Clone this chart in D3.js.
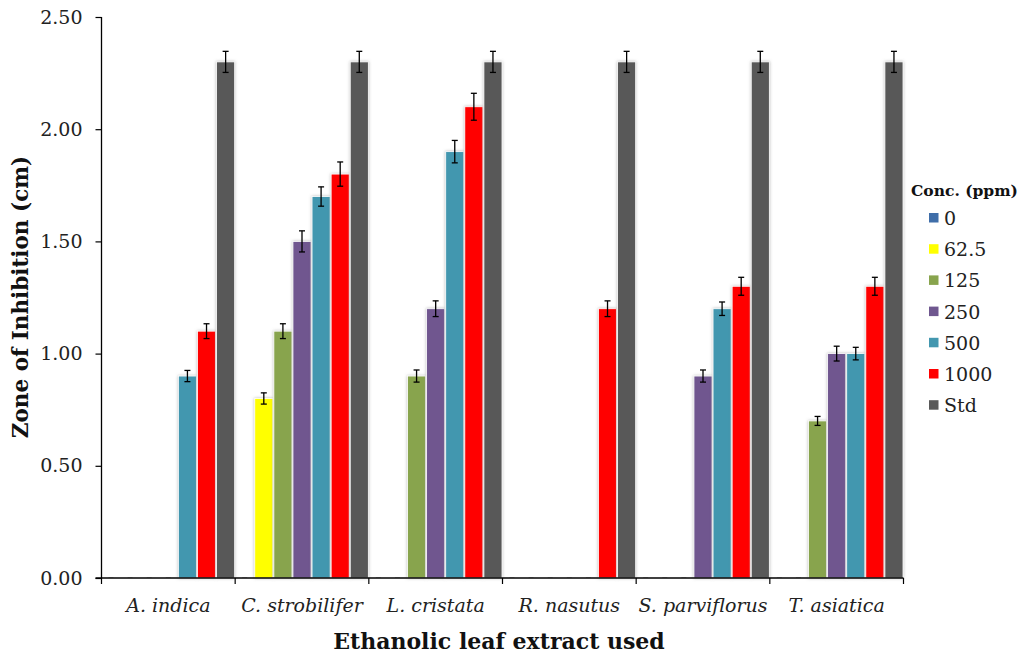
<!DOCTYPE html>
<html><head><meta charset="utf-8">
<script src="https://cdn.jsdelivr.net/npm/d3@7"></script>
<style>body{margin:0;background:#fff}svg{display:block}</style>
</head><body>
<svg id="c" width="1024" height="656"></svg>
<script>
const categories = ["A. indica","C. strobilifer","L. cristata","R. nasutus","S. parviflorus","T. asiatica"];
const seriesNames = ["0","62.5","125","250","500","1000","Std"];
const seriesColors = ["#3F6EA9","#FFFF00","#88A44D","#6F578F","#4397AF","#FF0000","#595959"];
// values[category][series]
const values = [
  [0,0,0,0,0.9,1.1,2.3],
  [0,0.8,1.1,1.5,1.7,1.8,2.3],
  [0,0,0.9,1.2,1.9,2.1,2.3],
  [0,0,0,0,0,1.2,2.3],
  [0,0,0,0.9,1.2,1.3,2.3],
  [0,0,0.7,1.0,1.0,1.3,2.3]
];
const errors = [
  [0,0,0,0,0.025,0.033,0.047],
  [0,0.025,0.033,0.047,0.043,0.054,0.047],
  [0,0,0.027,0.035,0.05,0.06,0.047],
  [0,0,0,0,0,0.035,0.047],
  [0,0,0,0.027,0.03,0.04,0.047],
  [0,0,0.02,0.033,0.028,0.04,0.047]
];
const yTicks = [0,0.5,1.0,1.5,2.0,2.5];

(function(){
const svg = d3.select("#c");
const pL = 101.5, pR = 903.5, pT = 17, pB = 578;
const x0 = d3.scaleBand().domain(categories).range([pL,pR]).padding(0);
const x1 = d3.scaleBand().domain(seriesNames).range([0,x0.bandwidth()]).padding(0);
const y = d3.scaleLinear().domain([0,2.5]).range([pB,pT]);

const defs = svg.append("defs");
const f = defs.append("filter").attr("id","sh").attr("x","-30%").attr("y","-5%").attr("width","160%").attr("height","110%");
f.append("feDropShadow").attr("dx",0).attr("dy",0).attr("stdDeviation",1.6).attr("flood-color","#888").attr("flood-opacity",0.6);

const serif = "'DejaVu Serif', serif";

// bars
const g = svg.append("g");
categories.forEach((c,ci)=>{
  seriesNames.forEach((s,si)=>{
    const v = values[ci][si];
    const bx = x0(c)+x1(s);
    if(v>0){
      g.append("rect").attr("x",bx+0.5).attr("y",y(v)).attr("width",x1.bandwidth()-1).attr("height",y(0)-y(v))
        .attr("fill",seriesColors[si]).attr("stroke","#fff").attr("stroke-width",0.8).attr("filter","url(#sh)");
    } else {
      g.append("line").attr("x1",bx+7).attr("x2",bx+12).attr("y1",pB-0.5).attr("y2",pB-0.5)
        .attr("stroke","#ccc").attr("stroke-width",1);
    }
  });
});
// error bars
const eg = svg.append("g").attr("stroke","#000").attr("stroke-width",1.3);
categories.forEach((c,ci)=>{
  seriesNames.forEach((s,si)=>{
    const v = values[ci][si], e = errors[ci][si];
    if(v>0 && e>0){
      const cx = x0(c)+x1(s)+x1.bandwidth()/2;
      eg.append("line").attr("x1",cx).attr("x2",cx).attr("y1",y(v+e)).attr("y2",y(v-e));
      eg.append("line").attr("x1",cx-3).attr("x2",cx+3).attr("y1",y(v+e)).attr("y2",y(v+e));
      eg.append("line").attr("x1",cx-3).attr("x2",cx+3).attr("y1",y(v-e)).attr("y2",y(v-e));
    }
  });
});

// y axis
const ya = svg.append("g").attr("transform",`translate(${pL},0)`)
  .call(d3.axisLeft(y).tickValues(yTicks).tickFormat(d3.format(".2f")).tickSize(6).tickPadding(13));
ya.select(".domain").attr("d",`M0,${pT}V${pB}`).attr("stroke","#000").attr("stroke-width",1.3);
ya.selectAll(".tick line").attr("stroke","#000").attr("stroke-width",1.2);
ya.selectAll(".tick text").attr("font-family",serif).attr("font-size",19).attr("fill","#222");

// x axis
const xa = svg.append("g").attr("transform",`translate(0,${pB})`);
xa.append("line").attr("x1",pL-6).attr("x2",pR).attr("y1",0).attr("y2",0).attr("stroke","#000").attr("stroke-width",1.3);
const bounds = categories.map(c=>x0(c)).concat([pR]);
xa.selectAll("line.tk").data(bounds).enter().append("line").attr("class","tk")
  .attr("x1",d=>d).attr("x2",d=>d).attr("y1",0).attr("y2",6).attr("stroke","#000").attr("stroke-width",1.2);
xa.selectAll("text").data(categories).enter().append("text")
  .attr("x",d=>x0(d)+x0.bandwidth()/2).attr("y",34).attr("text-anchor","middle")
  .attr("font-family",serif).attr("font-style","italic").attr("font-size",19).attr("fill","#222").text(d=>d);

// axis titles
svg.append("text").attr("x",499).attr("y",649).attr("text-anchor","middle")
  .attr("font-family",serif).attr("font-weight","bold").attr("font-size",22).attr("fill","#111")
  .text("Ethanolic leaf extract used");
svg.append("text").attr("transform","translate(28,297) rotate(-90)").attr("text-anchor","middle")
  .attr("font-family",serif).attr("font-weight","bold").attr("font-size",21.5).attr("fill","#111")
  .text("Zone of Inhibition (cm)");

// legend
const lg = svg.append("g");
lg.append("text").attr("x",911).attr("y",196).attr("font-family",serif).attr("font-weight","bold")
  .attr("font-size",15.5).attr("fill","#111").text("Conc. (ppm)");
seriesNames.forEach((s,i)=>{
  const yy = 218 + i*31.2;
  lg.append("rect").attr("x",929).attr("y",yy-5).attr("width",9.5).attr("height",9.5).attr("fill",seriesColors[i]);
  lg.append("text").attr("x",944).attr("y",yy+7).attr("font-family",serif).attr("font-size",19).attr("fill","#222").text(s);
});
})();
</script>
</body></html>
